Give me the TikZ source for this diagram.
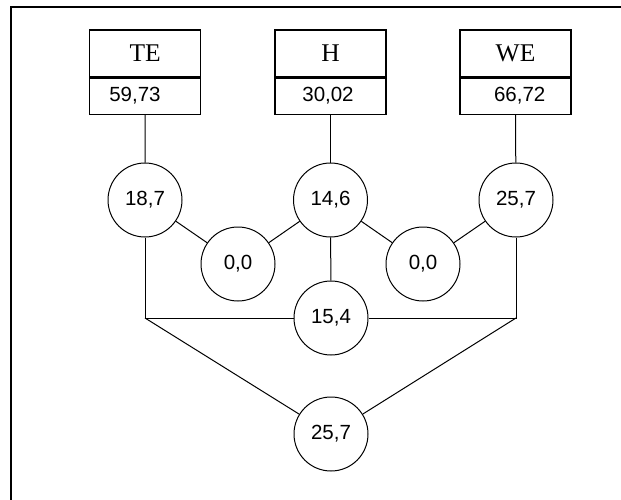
\documentclass[tikz,border=0pt]{standalone}
\usepackage{fontspec}
\setmainfont{Liberation Serif}
\newfontfamily\numfont{Liberation Sans}
\begin{document}
\begin{tikzpicture}[x=1pt,y=-1pt,
  cell/.style={draw, line width=1.3pt, minimum width=111pt, inner sep=0pt},
  toplab/.style={cell, minimum height=47pt, font=\fontsize{25.5}{28}\selectfont},
  numlab/.style={font=\numfont\fontsize{20.5}{23}\selectfont, inner sep=0pt},
  bub/.style={draw, circle, line width=1pt, minimum size=74pt, inner sep=0pt, font=\numfont\fontsize{20.5}{23}\selectfont},
  link/.style={line width=1pt}]
\useasboundingbox (0,0) rectangle (621,500);
\fill[white] (0,0) rectangle (621,500);
% frame (only left and top edges visible)
\draw[line width=2pt] (11,500) -- (11,6.7) -- (621,6.7);
% boxes
\node[toplab] (te) at (145.2,53.5) {TE};
\node[cell, minimum height=36pt, anchor=north] (teb) at (te.south) {};
\node[numlab] (tev) at (135,95.5) {59,73};
\node[toplab] (h) at (330.5,53.5) {H};
\node[cell, minimum height=36pt, anchor=north] (hb) at (h.south) {};
\node[numlab] (hv) at (328,95.5) {30,02};
\node[toplab] (we) at (515.5,53.5) {WE};
\node[cell, minimum height=36pt, anchor=north] (web) at (we.south) {};
\node[numlab] (wev) at (519.7,95.5) {66,72};
% circles
\node[bub] (c1) at (145,200) {18,7};
\node[bub] (c2) at (330.5,200) {14,6};
\node[bub] (c3) at (516,200) {25,7};
\node[bub] (z1) at (238,264) {0,0};
\node[bub] (z2) at (423,264) {0,0};
\node[bub] (m) at (331,318) {15,4};
\node[bub] (b) at (331,434) {25,7};
\coordinate (jl) at (145,318);
\coordinate (jr) at (516,318);
% connectors
\draw[link] (teb.south) -- (c1);
\draw[link] (hb.south) -- (c2);
\draw[link] (web.south) -- (c3);
\draw[link] (c1) -- (z1);
\draw[link] (z1) -- (c2);
\draw[link] (c2) -- (z2);
\draw[link] (z2) -- (c3);
\draw[link] (c2) -- (m);
\draw[link] (c1.south) -- (jl) -- (m.west);
\draw[link] (c3.south) -- (jr) -- (m.east);
\draw[link] (jl) -- (b);
\draw[link] (jr) -- (b);
\end{tikzpicture}
\end{document}
